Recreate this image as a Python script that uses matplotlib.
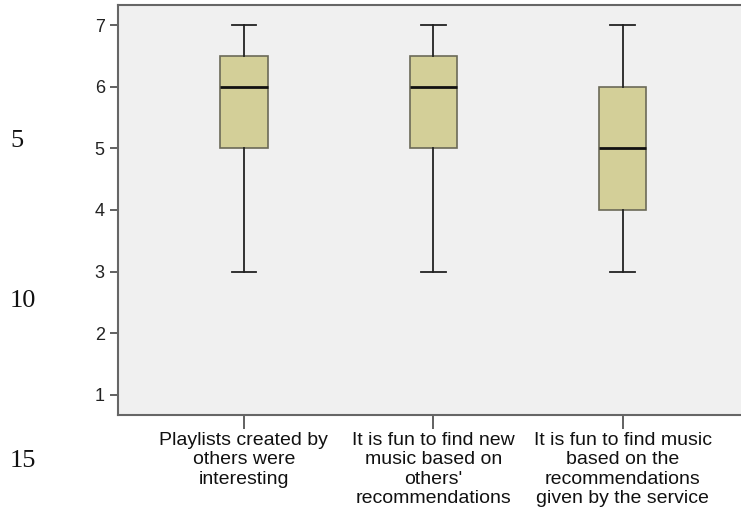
import matplotlib
matplotlib.use("Agg")
import matplotlib.pyplot as plt

categories = [
    "Playlists created by\nothers were\ninteresting",
    "It is fun to find new\nmusic based on\nothers'\nrecommendations",
    "It is fun to find music\nbased on the\nrecommendations\ngiven by the service",
]
whisker_low = [3, 3, 3]
q1 = [5, 5, 4]
median = [6, 6, 5]
q3 = [6.5, 6.5, 6]
whisker_high = [7, 7, 7]
y_ticks = [1, 2, 3, 4, 5, 6, 7]
line_numbers = ["5", "10", "15"]

fig = plt.figure(figsize=(7.41, 5.16), dpi=100)
ax = fig.add_axes([118 / 741, 1 - 415 / 516, 1 - 118 / 741 + 0.01, 410 / 516])
ax.set_facecolor("#F0F0F0")

stats = []
for i in range(len(categories)):
    stats.append(dict(whislo=whisker_low[i], q1=q1[i], med=median[i],
                      q3=q3[i], whishi=whisker_high[i], fliers=[]))

positions = [1, 2, 3]
ax.bxp(stats, positions=positions, widths=0.25, patch_artist=True,
       showfliers=False,
       boxprops=dict(facecolor="#D3CF98", edgecolor="#6B6A58", linewidth=1.2),
       medianprops=dict(color="#111111", linewidth=2.0),
       whiskerprops=dict(color="#222222", linewidth=1.3),
       capprops=dict(color="#222222", linewidth=1.3),
       capwidths=0.13)

ax.set_xlim(0.335, 3.665)
ax.set_ylim(0.675, 7.325)
ax.set_yticks(y_ticks)
ax.set_yticklabels([str(v) for v in y_ticks], fontsize=13,
                   family="Liberation Sans", color="#222222")
ax.set_xticks(positions)
ax.set_xticklabels(categories, fontsize=14, family="Liberation Sans",
                   color="#111111", linespacing=1.2, va="top")
ax.tick_params(axis="y", length=6, width=1.3, color="#555555", pad=3.5)
ax.tick_params(axis="x", length=10, width=1.3, color="#555555", pad=2)
for side in ["left", "bottom", "top"]:
    ax.spines[side].set_color("#666666")
    ax.spines[side].set_linewidth(1.5)
ax.spines["right"].set_visible(False)

for txt, y in zip(line_numbers, [141, 301, 461]):
    fig.text(10 / 741, 1 - y / 516, txt, fontsize=19, family="Liberation Serif",
             ha="left", va="center", color="#111111")

fig.savefig("out.png", dpi=100)
